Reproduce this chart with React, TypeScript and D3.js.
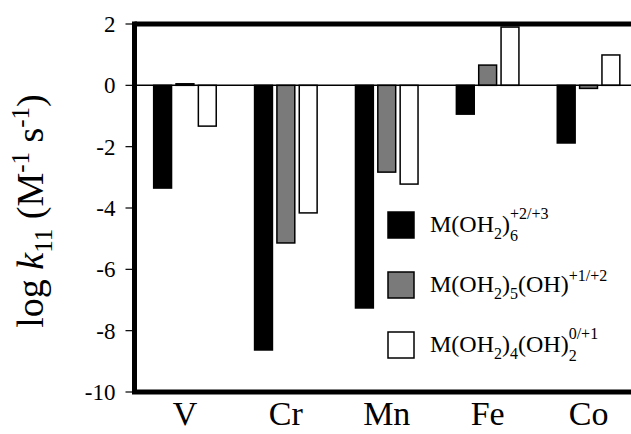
import React from 'react'
import * as d3 from 'd3'

// Data
const metals = ['V', 'Cr', 'Mn', 'Fe', 'Co']
const series = ['hexaaqua', 'hydroxo', 'dihydroxo']
const hexaaqua = [-3.35, -8.63, -7.26, -0.94, -1.88]
const hydroxo = [0.05, -5.14, -2.83, 0.66, -0.1]
const dihydroxo = [-1.33, -4.16, -3.22, 1.9, 0.99]
const yTicks = [-10, -8, -6, -4, -2, 0, 2]

const values: Record<string, number[]> = { hexaaqua, hydroxo, dihydroxo }
const fills: Record<string, string> = { hexaaqua: '#000', hydroxo: '#7a7a7a', dihydroxo: '#fff' }

// Dimensions
const W = 631
const H = 434
const left = 134.5
const right = 639
const top = 24
const bottom = 392
const font = '"Liberation Serif", "Times New Roman", serif'

function LegendLabel({ i, x, y }: { i: number; x: number; y: number }) {
  const sm = 16
  if (i === 0) {
    return (
      <text x={x} y={y} fontSize={24} fontFamily={font}>
        M(OH<tspan fontSize={sm} dy={7}>2</tspan>
        <tspan dy={-7}>)</tspan>
        <tspan fontSize={sm} dy={9}>6</tspan>
        <tspan fontSize={sm} dx={-8} dy={-22}>+2/+3</tspan>
      </text>
    )
  }
  if (i === 1) {
    return (
      <text x={x} y={y} fontSize={24} fontFamily={font}>
        M(OH<tspan fontSize={sm} dy={7}>2</tspan>
        <tspan dy={-7}>)</tspan>
        <tspan fontSize={sm} dy={7}>5</tspan>
        <tspan dy={-7}>(OH)</tspan>
        <tspan fontSize={sm} dy={-11}>+1/+2</tspan>
      </text>
    )
  }
  return (
    <text x={x} y={y} fontSize={24} fontFamily={font}>
      M(OH<tspan fontSize={sm} dy={7}>2</tspan>
      <tspan dy={-7}>)</tspan>
      <tspan fontSize={sm} dy={7}>4</tspan>
      <tspan dy={-7}>(OH)</tspan>
      <tspan fontSize={sm} dy={9}>2</tspan>
      <tspan fontSize={sm} dx={-8} dy={-22}>0/+1</tspan>
    </text>
  )
}

export default function App() {
  const x = d3.scaleBand<string>().domain(metals).range([left, right]).paddingInner(0.38).paddingOuter(0.19)
  const xs = d3.scaleBand<string>().domain(series).range([0, x.bandwidth()]).paddingInner(0.2)
  const y = d3.scaleLinear().domain([-10, 2]).range([bottom, top])

  return (
    <svg width={W} height={H} style={{ position: 'absolute', left: 0, top: 0, background: '#fff' }}>
      {/* bars */}
      {metals.map((m, mi) =>
        series.map(s => {
          const v = values[s][mi]
          return (
            <rect
              key={m + s}
              x={(x(m) as number) + (xs(s) as number)}
              y={y(Math.max(0, v))}
              width={xs.bandwidth()}
              height={Math.abs(y(v) - y(0))}
              fill={fills[s]}
              stroke="#000"
              strokeWidth={1.5}
            />
          )
        })
      )}

      {/* zero line */}
      <line x1={left} x2={right} y1={y(0)} y2={y(0)} stroke="#000" strokeWidth={1.5} />

      {/* frame */}
      <line x1={left} x2={right} y1={top} y2={top} stroke="#000" strokeWidth={5} />
      <line x1={left - 2.5} x2={right} y1={bottom} y2={bottom} stroke="#000" strokeWidth={5} />
      <line x1={left} x2={left} y1={top - 2.5} y2={bottom} stroke="#000" strokeWidth={5} />
      <line x1={right} x2={right} y1={top - 2.5} y2={bottom} stroke="#000" strokeWidth={5} />

      {/* y ticks */}
      {yTicks.map(t => (
        <g key={t}>
          <line x1={left - 9} x2={left} y1={y(t)} y2={y(t)} stroke="#000" strokeWidth={1.2} />
          <text x={left - 19} y={y(t) + 8} textAnchor="end" fontSize={23} fontFamily={font}>
            {String(t)}
          </text>
        </g>
      ))}

      {/* categories */}
      {metals.map(m => (
        <text
          key={m}
          x={(x(m) as number) + x.bandwidth() / 2}
          y={425}
          textAnchor="middle"
          fontSize={34}
          fontFamily={font}
        >
          {m}
        </text>
      ))}

      {/* y label */}
      <text transform="translate(43,211) rotate(-90)" textAnchor="middle" fontSize={38} fontFamily={font}>
        log <tspan fontStyle="italic">k</tspan>
        <tspan fontSize={25} dy={9}>11</tspan>
        <tspan dy={-9}> (M</tspan>
        <tspan fontSize={25} dy={-14}>-1</tspan>
        <tspan dy={14}> s</tspan>
        <tspan fontSize={25} dy={-14}>-1</tspan>
        <tspan dy={14}>)</tspan>
      </text>

      {/* legend */}
      {series.map((s, i) => (
        <g key={s}>
          <rect x={388} y={212 + i * 60} width={26} height={26} fill={fills[s]} stroke="#000" strokeWidth={1.5} />
          <LegendLabel i={i} x={430} y={232 + i * 60} />
        </g>
      ))}
    </svg>
  )
}
